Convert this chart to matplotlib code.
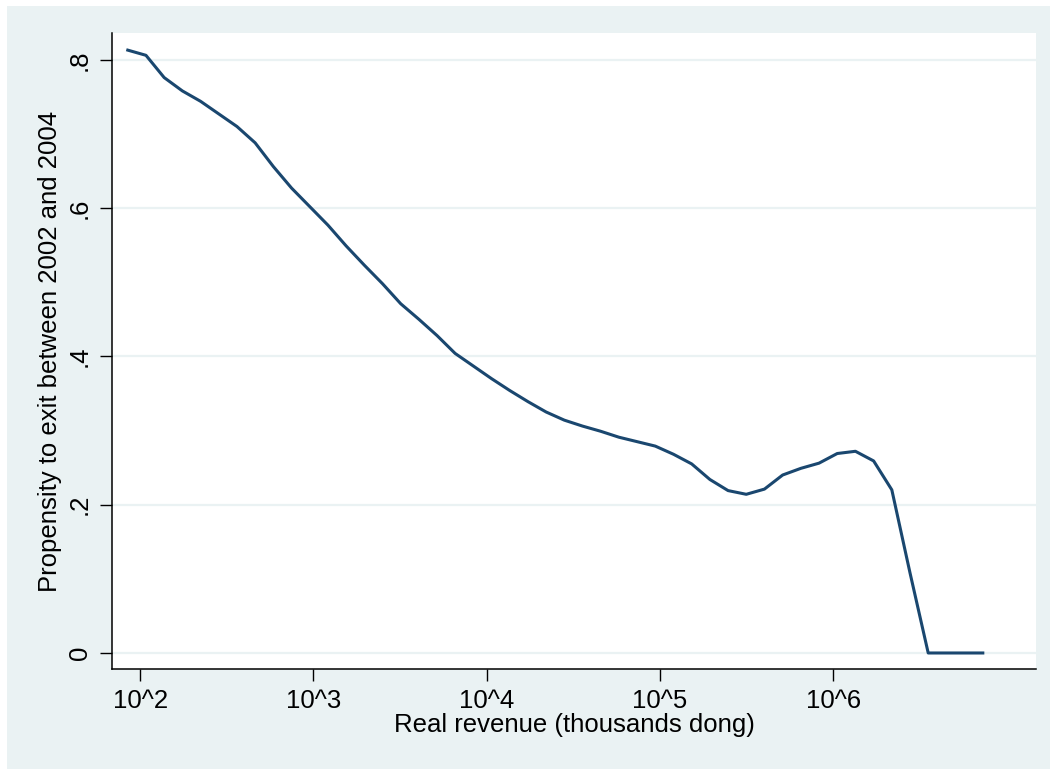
import matplotlib
matplotlib.use('Agg')
import matplotlib.pyplot as plt
from matplotlib.patches import Rectangle

# log10 of real revenue (thousands dong) and propensity to exit
log_revenue = [1.929, 2.034, 2.139, 2.244, 2.349, 2.454, 2.559, 2.664, 2.769, 2.874,
               2.979, 3.084, 3.189, 3.294, 3.399, 3.504, 3.609, 3.714, 3.818, 3.923,
               4.028, 4.133, 4.238, 4.343, 4.448, 4.553, 4.658, 4.763, 4.868, 4.973,
               5.078, 5.183, 5.288, 5.393, 5.498, 5.603, 5.708, 5.813, 5.918, 6.023,
               6.128, 6.233, 6.338, 6.443, 6.548, 6.653, 6.758, 6.863]
exit_prop = [0.813, 0.806, 0.776, 0.758, 0.744, 0.727, 0.710, 0.688, 0.656, 0.627,
             0.602, 0.577, 0.549, 0.523, 0.498, 0.471, 0.450, 0.428, 0.404, 0.387,
             0.370, 0.354, 0.339, 0.325, 0.314, 0.306, 0.299, 0.291, 0.285, 0.279,
             0.268, 0.255, 0.234, 0.219, 0.214, 0.221, 0.240, 0.249, 0.256, 0.269,
             0.272, 0.259, 0.220, 0.108, 0.0, 0.0, 0.0, 0.0]

x_ticks = [2, 3, 4, 5, 6]
x_ticklabels = ['10^2', '10^3', '10^4', '10^5', '10^6']
y_ticks = [0, 0.2, 0.4, 0.6, 0.8]
y_ticklabels = ['0', '.2', '.4', '.6', '.8']

plt.rcParams['font.family'] = ['Liberation Sans', 'DejaVu Sans']

bg = '#eaf2f3'
fig = plt.figure(figsize=(10.5, 7.69), dpi=100, facecolor='white')
# Stata style graph region (small white strip on top and left)
fig.patches.append(Rectangle((7 / 1050, 0), 1, 1 - 6 / 769, transform=fig.transFigure,
                             facecolor=bg, edgecolor='none', zorder=-1))

ax = fig.add_axes([112 / 1050, 100 / 769, 924 / 1050, 636 / 769])
ax.set_facecolor('white')

ax.plot(log_revenue, exit_prop, color='#1a476f', linewidth=2.2, zorder=3)

ax.set_xlim(1.838, 7.17)
ax.set_ylim(-0.0216, 0.8361)

ax.set_xticks(x_ticks)
ax.set_xticklabels(x_ticklabels)
ax.set_yticks(y_ticks)
ax.set_yticklabels(y_ticklabels, rotation=90, va='center')

ax.grid(axis='y', color=bg, linewidth=1.6)
ax.set_axisbelow(True)

for side in ['top', 'right']:
    ax.spines[side].set_visible(False)
for side in ['left', 'bottom']:
    ax.spines[side].set_linewidth(1.1)

ax.tick_params(axis='both', direction='out', length=8.5, width=1.0, labelsize=18.5, pad=6)

ax.set_xlabel('Real revenue (thousands dong)', fontsize=18.5, labelpad=0)
ax.set_ylabel('Propensity to exit between 2002 and 2004', fontsize=18.5, labelpad=4)

plt.savefig('out.png', dpi=100, facecolor=fig.get_facecolor())
